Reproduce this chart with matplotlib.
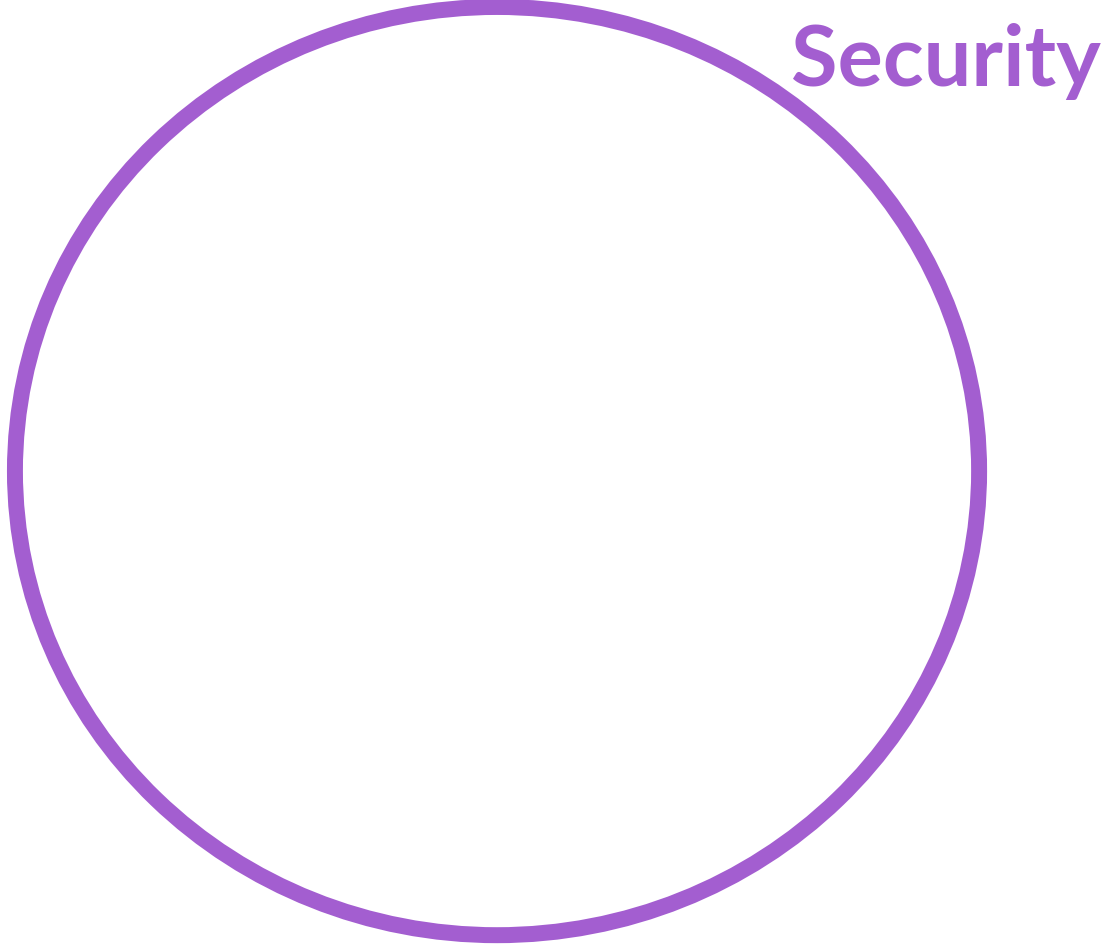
import matplotlib.pyplot as plt
from matplotlib.patches import Circle

# one set only
set_names = ['Security']
set_colors = ['#a35ed0']
set_radius = [1.0]

fig = plt.figure(figsize=(11.03, 9.44), dpi=100)
ax = fig.add_axes([0, 0, 1, 1])
ax.set_xlim(-1.031, 1.257)
ax.set_ylim(-1.019, 1.015)
ax.axis('off')

for name, col, r in zip(set_names, set_colors, set_radius):
    ax.add_patch(Circle((0, 0), r, fill=False, edgecolor=col, linewidth=11.5))
    ax.text(0.998, 0.909, name, transform=ax.transAxes, ha='right', va='baseline',
            fontsize=61, fontweight='bold', family='Lato', color=col)

fig.savefig('out.png', dpi=100)
